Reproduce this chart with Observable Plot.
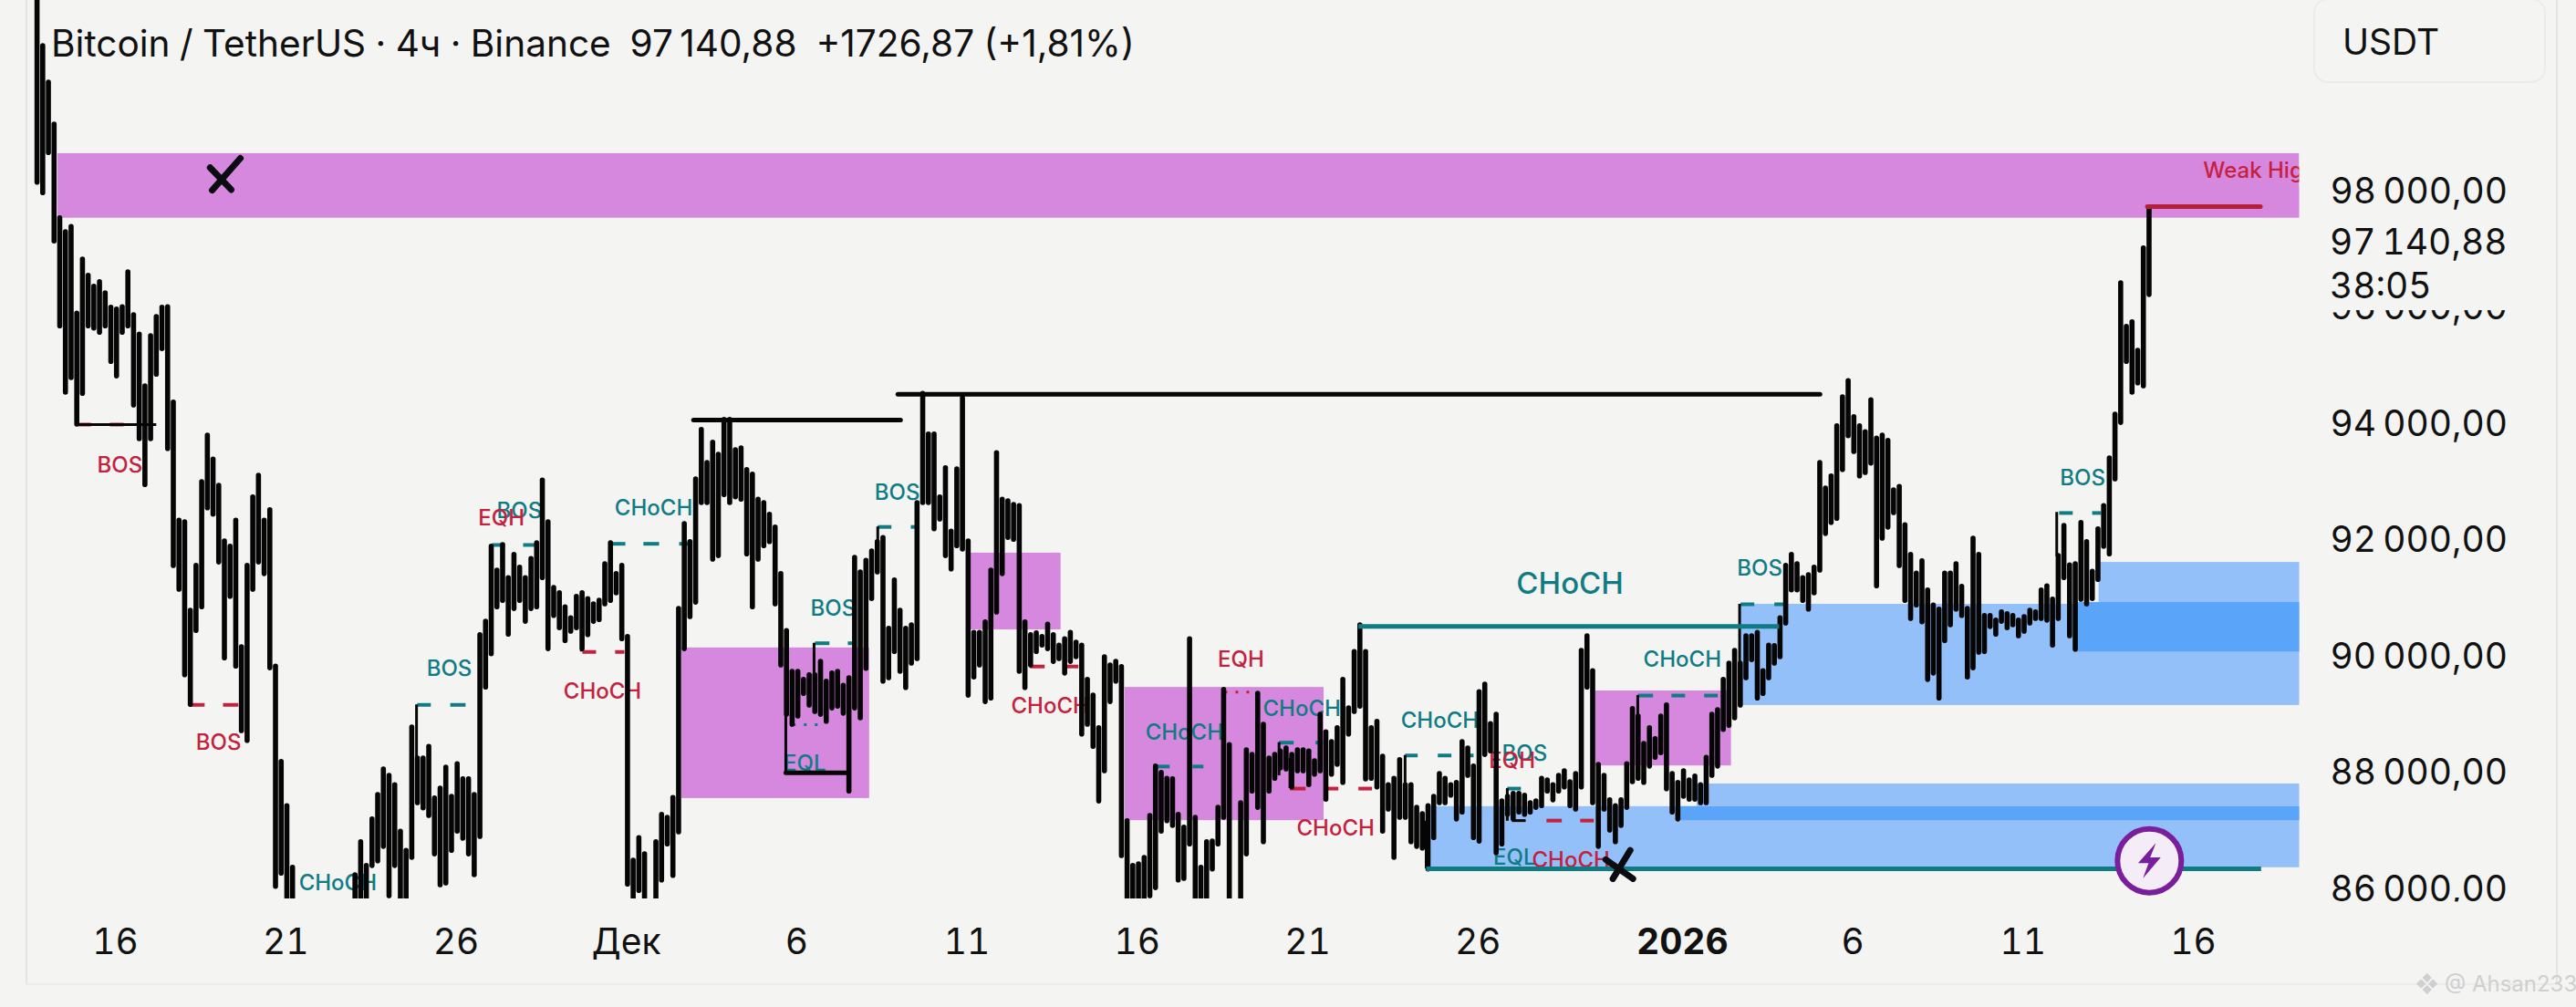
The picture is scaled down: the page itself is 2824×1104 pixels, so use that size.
<!DOCTYPE html>
<html><head><meta charset="utf-8">
<script src="https://cdn.jsdelivr.net/npm/d3@7"></script>
<script src="https://cdn.jsdelivr.net/npm/@observablehq/plot@0.6"></script>
<style>
html,body{margin:0;padding:0;background:#f4f4f2;width:2824px;height:1104px;overflow:hidden;font-family:Inter,sans-serif;color:#111}
#wrap{position:relative;width:2824px;height:1104px}
#wrap svg{position:absolute;left:0;top:0}
.abs{position:absolute;white-space:pre}
#title{left:56px;top:24px;font-size:40.6px;line-height:47px;word-spacing:-1px}
#usdt{left:2536px;top:-2px;width:251px;height:89px;border:2px solid #ebebe9;border-radius:16px;box-sizing:content-box}
#usdtT{left:2568px;top:22px;font-size:39px;line-height:47px}
#panelL{left:28px;top:0;width:2px;height:1079px;background:#e4e4e2}
#panelB{left:28px;top:1078px;width:2776px;height:2px;background:#ebebe9}
#panelR{left:2802px;top:0;width:2px;height:1079px;background:#e4e4e2}
#wm{left:2648px;top:1064px;font-size:24px;line-height:30px;color:#cfcfcf}
</style></head><body>
<div id="wrap">
<div class="abs" id="panelL"></div><div class="abs" id="panelB"></div><div class="abs" id="panelR"></div>
<div id="chart"></div>
<div class="abs" id="title"></div>
<div class="abs" id="usdt"></div><div class="abs" id="usdtT"></div>
<div class="abs" id="wm"></div>
</div>
<script>
const titleText = "Bitcoin / TetherUS · 4ч · Binance  97\u202f140,88  +1726,87 (+1,81%)";
const currency = "USDT";
const watermark = "❖ @ Ahsan233";

// x unit: days after 16 Nov; one candle every 4 hours
const firstCandleDay = -2.3;
const candleStep = 1 / 6;

const tickDays = [0, 5, 10, 15, 20, 25, 30, 35, 40, 51, 56, 61];
const tickLabels = ["16", "21", "26", "Дек", "6", "11", "16", "21", "26", "6", "11", "16"];
const yearTickDay = [46];
const yearTickLabel = "2026";

const priceTicks = [86000, 88000, 90000, 92000, 94000, 96000, 98000];
const priceLabels = ["86\u202f000,00", "88\u202f000,00", "90\u202f000,00", "92\u202f000,00", "94\u202f000,00", "96\u202f000,00", "98\u202f000,00"];
const lastPrice = "97\u202f140,88";
const countdown = "38:05";

const highs = [
101900,100510,99880,99160,97550,97310,97400,95910,96840,96560,
96370,96450,96260,96010,95980,96020,96620,95880,95550,94660,
95520,95850,96010,96020,94380,92350,92320,90800,91570,93010,
93810,93400,92950,91990,91900,92350,90170,91570,92750,93120,
92350,92530,89840,88200,87440,86380,null,null,null,null,
null,null,null,null,null,null,86250,86820,86410,87210,
87630,88070,87960,87800,87000,86670,88790,88260,88260,88460,
87570,87740,88100,87600,88160,87900,87900,87630,90380,90610,
91900,91490,91930,91360,91760,91540,91360,91690,91960,93040,
92320,91190,91100,90860,90670,91040,91100,91000,90910,90970,
91600,91960,91430,91570,90350,86500,86890,86610,null,86820,
87290,87240,87580,90830,92290,91980,93060,93910,93340,93690,
93480,94080,94080,93560,93590,93220,93140,92710,92650,92450,
92230,91430,90450,89750,89750,89610,89690,89690,89920,89580,
89720,89750,89510,89640,91710,91460,91660,91820,91980,92050,
90490,91320,90800,90490,90550,92650,94530,93830,93830,92750,
93250,92160,93230,94450,91990,90420,90420,90600,91490,93510,
92710,92680,92620,92600,90600,90380,90410,90350,90560,90380,
90200,90310,90420,90250,90200,89610,89340,88780,90000,89860,
89920,89830,87180,86410,86440,86550,87270,88120,88010,87910,
87900,87290,87070,90310,87240,86380,86820,86830,87410,89440,
88490,null,87490,88400,88320,89370,88840,88260,88320,88380,
88430,88320,88400,88400,88380,88210,89010,88710,88540,88780,
89610,89120,90090,90550,90090,88780,88890,88290,87800,87910,
88230,87800,87800,87410,87300,87440,87600,87990,87910,87800,
87840,88540,88430,88120,89400,89530,88850,89010,87520,87600,
87650,87650,87620,87490,87520,87910,87880,87800,87960,88040,
87850,87990,90110,90360,89760,88150,87960,87540,87440,87540,
88160,89110,88980,88510,88780,88590,88980,89170,87990,87840,
88040,87880,87950,87800,88270,89010,89090,89610,89890,90110,
89890,90360,90360,90420,89760,90200,90190,90670,91570,91760,
91600,91360,91410,91540,93340,92900,93110,93970,94470,94750,
94130,93970,93870,94420,93760,93810,93720,92870,92930,92270,
91760,91440,91650,91150,90890,90820,91440,91440,91600,91210,
90830,92040,91760,90710,90710,90630,90770,90740,90710,90630,
90690,90800,90770,91150,91220,90990,91740,92260,91580,91600,
92310,91980,91470,92200,92600,93420,94170,96430,95680,95760,
95270,97030,97730];

const lows = [
98160,97980,98670,97150,95690,94550,94800,94000,94530,95690,
95650,95580,95690,95080,94830,95580,95690,94330,93750,92960,
93750,94860,95300,93580,91570,91160,89690,89180,90450,90860,
92560,92450,91630,89980,91040,89840,88730,88560,91160,91630,
91430,89810,86050,86280,85600,85600,null,null,null,null,
null,null,null,null,null,null,85600,85600,85600,86410,
86490,86740,85890,86410,85600,85600,86550,87490,87400,87270,
86610,86080,86110,86670,87000,86880,86610,86250,86910,89480,
90050,90860,90970,90390,90830,90970,90610,90830,90860,91360,
90140,90710,90500,90280,90440,90500,90140,90380,90610,90640,
90910,90970,91100,90310,86090,85600,85980,85600,null,85600,
86160,86780,86240,86990,90140,90690,90940,92650,92650,91680,
91740,92790,92650,92750,92710,91770,90860,91680,91910,91980,
90910,89860,89010,88840,88980,89370,89170,89060,89010,88890,
89120,89150,89030,87690,89120,88950,89800,91000,91460,89580,
89640,90090,89750,89470,89890,89970,92650,92650,92200,92370,
91740,91510,91910,91850,89340,89650,89860,89230,89290,90770,
91430,92050,92020,89750,89470,89860,90090,90200,90140,89920,
89970,89720,89920,90000,88670,88840,88460,87520,88040,89230,
89580,86580,85760,85600,85600,85600,85890,86030,87000,87180,
87100,86160,86190,86780,85600,85600,85600,86350,86780,87240,
85600,null,85600,86610,87690,87410,86820,87690,87910,88090,
88070,87760,88040,88040,87800,87980,88040,87550,87980,88150,
87840,88670,89060,89150,87900,87910,87760,87000,87380,86550,
87240,87240,86820,86740,86710,86350,86890,87490,87490,87620,
87210,87330,87960,86890,86830,88320,88380,86630,86780,87290,
87210,87330,87290,87330,87410,87440,87690,87540,87690,87760,
87440,87380,87760,89480,87490,86740,87380,87020,86820,87100,
87410,87850,87910,87840,88120,88270,88350,87730,87330,87210,
87600,87550,87550,87490,87490,87960,88120,88750,88820,88950,
89170,89640,89950,89290,89370,89640,89890,90000,90580,91150,
91150,90970,90820,91100,91490,92120,92310,92380,93220,93800,
93530,93110,93170,93330,91220,92040,92230,92480,91570,90970,
90660,90890,90600,89610,89720,89290,90280,90550,90820,90710,
89650,89810,90080,90090,90520,90390,90610,90500,90550,90360,
90440,90580,90660,90660,90630,90200,90660,91360,90360,90130,
90990,90910,91000,91330,91900,91770,93060,94030,95080,94550,
94710,94660,96230];

// zones: day from, day to, price top, price bottom
const pinkZones = [
  [-1.69, 64.12, 98660, 97550],
  [16.63, 22.14, 90160, 87570],
  [25.11, 27.76, 91790, 90470],
  [29.64, 35.48, 89480, 87190],
  [43.45, 47.44, 89420, 88130]
];
const lightBlueZones = [
  [47.71, 64.12, 90910, 89170],
  [58.23, 64.12, 91630, 90910],
  [38.61, 64.12, 87430, 86380],
  [46.43, 64.12, 87820, 87430]
];
const darkBlueZones = [
  [57.59, 64.12, 90940, 90090],
  [45.86, 64.12, 87430, 87190]
];

// structure lines: day from, day to, price
const redDashes = [
  [-1.10,-0.72,94000],[-0.16,0.24,94000],[2.22,2.62,89180],[3.16,3.61,89180],
  [13.71,14.11,90090],[14.67,14.94,90090],[26.85,27.28,89840],[27.87,28.27,89840],
  [34.48,34.94,87740],[35.56,35.90,87740],[36.49,36.89,87740],[42.01,42.46,87190],[43.00,43.40,87190]
];
const tealDashes = [
  [8.86,9.26,89180],[9.83,10.28,89180],[11.06,11.43,91930],[11.97,12.42,91930],
  [14.54,14.97,91950],[15.50,15.96,91950],[16.55,16.87,91950],[20.54,20.96,90240],[21.50,21.69,90240],
  [22.38,22.78,92240],[23.35,23.48,92240],[30.50,30.95,88120],[31.62,31.94,88120],
  [34.16,34.59,88530],[35.23,35.45,88530],[37.86,38.23,88310],[38.82,39.22,88310],[39.71,39.87,88310],
  [40.86,41.26,87740],[44.69,45.14,89340],[45.68,46.08,89340],[46.64,47.04,89340],
  [47.71,48.11,90910],[48.70,48.97,90910],[57.06,57.46,92480],[58.03,58.29,92480]
];
const blackThin = [[-1.15,1.2,94000],[41.0,41.4,87190]];
const blackThick = [[16.97,23.05,94080],[22.97,50.04,94520],[19.68,21.50,88010]];
const tealLong = [[36.49,48.84,90530],[38.48,62.99,86360]];
const weakHighLine = [[59.65,62.97,97750]];
const tealDotted = [[19.89,20.83,88840]];
const redDotted = [[32.56,33.52,89400]];
// stems: day, price top, price bottom
const stems = [
  [8.84,89180,88260],[11.06,91930,91250],[14.54,91930,91100],[13.68,91100,90090],
  [20.51,90240,89690],[19.68,89860,88010],[22.38,92240,91570],[26.85,90310,89840],
  [30.50,88120,87650],[34.16,88530,87960],[34.48,88260,87740],[37.86,88310,87490],
  [40.86,87740,87180],[44.69,89340,88750],[47.68,90910,89170],[56.99,92490,91730],[38.48,87180,86360]
];

// labels: text, day, price
const tealLabels = [
  ["BOS",9.80,89800],["BOS",11.86,92510],["CHoCH",6.53,86110],["CHoCH",15.80,92560],
  ["EQL",20.24,88160],["BOS",21.07,90830],["BOS",22.95,92820],["CHoCH",31.38,88700],
  ["CHoCH",34.83,89110],["CHoCH",38.88,88900],["BOS",41.37,88340],["EQL",41.07,86550],
  ["CHoCH",46.00,89950],["BOS",48.27,91520],["BOS",57.75,93070]
];
const redLabels = [
  ["BOS",0.13,93290],["BOS",3.03,88530],["EQH",11.33,92380],["CHoCH",14.30,89400],
  ["CHoCH",27.44,89150],["EQH",33.04,89950],["CHoCH",35.82,87060],["EQH",41.00,88210],["CHoCH",42.73,86500]
];
const bigLabel = [["CHoCH",42.70,91250]];
const weakLabel = [["Weak High",61.29,98360]];

// hand-drawn crosses: day1, price1, day2, price2
const crosses = [
  [2.78,98420,3.40,98040],[3.67,98580,2.84,98030],
  [43.75,86520,44.55,86190],[44.47,86680,43.96,86190]
];
const badge = [[59.71,86500]];

document.getElementById("title").textContent = titleText;
document.getElementById("usdtT").textContent = currency;
document.getElementById("wm").textContent = watermark;

const candles = highs.map((h, i) => ({day: firstCandleDay + i * candleStep, high: h, low: lows[i]})).filter(c => c.high != null);

const bg = "#f4f4f2", teal = "#0f7c84", red = "#c4213f", pink = "#d687de", lightBlue = "#94c0fa", darkBlue = "#5aa4f9", ink = "#050505";
const font = "Inter, sans-serif";
const zone = (z, fill) => Plot.rect(z, {x1: d => d[0], x2: d => d[1], y1: d => d[2], y2: d => d[3], fill});
const hseg = (s, stroke, strokeWidth, extra = {}) => Plot.link(s, {x1: d => d[0], x2: d => d[1], y1: d => d[2], y2: d => d[2], stroke, strokeWidth, ...extra});
const labels = (l, fill, fontSize, extra = {}) => Plot.text(l, {x: d => d[1], y: d => d[2], text: d => d[0], fill, fontSize, fontWeight: 500, fontFamily: font, ...extra});
const tickText = (ticks, labs) => d => labs[ticks.indexOf(d)];

// bolt symbol drawn around the dot's centre
const bolt = {draw(c, size) { const s = Math.sqrt(size) / 40;
  c.moveTo(8*s,-22*s); c.lineTo(-14*s,3*s); c.lineTo(-1*s,3*s); c.lineTo(-8*s,22*s); c.lineTo(14*s,-4*s); c.lineTo(1*s,-4*s); c.closePath(); }};

const chart = Plot.plot({
  width: 2824, height: 1104,
  marginTop: 0, marginBottom: 119, marginLeft: 30, marginRight: 303,
  style: {background: "transparent", fontFamily: font, maxWidth: "none"},
  x: {type: "linear", domain: [0, 61], range: [126, 2404], label: null},
  y: {type: "linear", domain: [86000, 98000], range: [975, 210], label: null},
  marks: [
    zone(pinkZones, pink),
    zone(lightBlueZones, lightBlue),
    zone(darkBlueZones, darkBlue),
    labels(tealLabels, teal, 24),
    labels(redLabels, red, 24),
    labels(bigLabel, teal, 33),
    labels(weakLabel, red, 24, {textAnchor: "start"}),
    // the pane ends at the zone's right edge and cuts the "Weak High" label
    Plot.rect([[64.12, 64.6, 98700, 98100]], {x1: d => d[0], x2: d => d[1], y1: d => d[2], y2: d => d[3], fill: bg}),
    hseg(redDashes, red, 4),
    hseg(tealDashes, teal, 4),
    hseg(tealDotted, teal, 3, {strokeDasharray: "3 9"}),
    hseg(redDotted, red, 3, {strokeDasharray: "3 9"}),
    hseg(blackThin, ink, 3),
    Plot.ruleX(stems, {x: d => d[0], y1: d => d[1], y2: d => d[2], stroke: ink, strokeWidth: 3}),
    Plot.ruleX(candles, {x: "day", y1: "low", y2: "high", stroke: ink, strokeWidth: 5.6, strokeLinecap: "round", clip: true}),
    hseg(blackThick, ink, 5, {strokeLinecap: "round"}),
    hseg(tealLong, teal, 5),
    hseg(weakHighLine, "#b51f38", 5, {strokeLinecap: "round"}),
    Plot.link(crosses, {x1: d => d[0], y1: d => d[1], x2: d => d[2], y2: d => d[3], stroke: "#0b0b12", strokeWidth: 7, strokeLinecap: "round"}),
    Plot.dot(badge, {x: d => d[0], y: d => d[1], r: 35, fill: "#f4ecf6", stroke: "#7a1f9c", strokeWidth: 6}),
    Plot.dot(badge, {x: d => d[0], y: d => d[1], r: 20, symbol: bolt, fill: "#7a1f9c"}),
    Plot.axisY(priceTicks, {anchor: "right", tickSize: 0, tickPadding: 33, fontSize: 39, fontFamily: font, fill: "#111", label: null, tickFormat: tickText(priceTicks, priceLabels)}),
    Plot.axisX(tickDays, {anchor: "bottom", tickSize: 0, tickPadding: 33, fontSize: 39, fontFamily: font, fill: "#111", label: null, tickFormat: tickText(tickDays, tickLabels)}),
    Plot.axisX(yearTickDay, {anchor: "bottom", tickSize: 0, tickPadding: 33, fontSize: 39, fontFamily: font, fontWeight: 700, fill: "#111", label: null, tickFormat: () => yearTickLabel}),
    // axis overlap: the live price box hides the top of 96 000, the pane edge cuts 86 000
    Plot.rect([[64.63, 71.1, 97530, 95960], [64.63, 71.1, 85790, 85400]], {x1: d => d[0], x2: d => d[1], y1: d => d[2], y2: d => d[3], fill: bg}),
    Plot.text([[lastPrice, 65.0, 97115], [countdown, 65.0, 96375]], {x: d => d[1], y: d => d[2], text: d => d[0], textAnchor: "start", fontSize: 39, fontFamily: font, fontVariant: "tabular-nums", fill: "#111"})
  ]
});
document.getElementById("chart").appendChild(chart);
</script>
</body></html>
